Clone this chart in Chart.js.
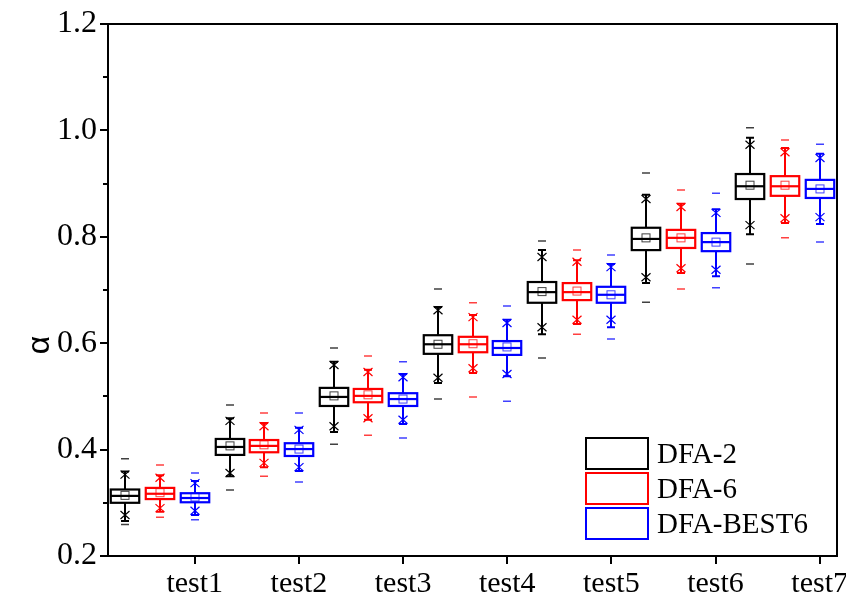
<!DOCTYPE html>
<html>
<head>
<meta charset="utf-8">
<script src="https://cdn.jsdelivr.net/npm/chart.js@4.4.1/dist/chart.umd.min.js"></script>
<style>
  html, body { margin: 0; padding: 0; background: #fff; }
  #wrap { width: 846px; height: 602px; }
</style>
</head>
<body>
<div id="wrap"><canvas id="chart" width="846" height="602"></canvas></div>
<script>
// categories and legend names
const categories = ['test1', 'test2', 'test3', 'test4', 'test5', 'test6', 'test7'];
const seriesNames = ['DFA-2', 'DFA-6', 'DFA-BEST6'];
const seriesColors = ['#000000', '#ff0000', '#0000ff'];

// each row: [min, whiskerLow, x-mark low, Q1, median, mean, Q3, x-mark high, whiskerHigh, max]
const dfa2Stats = [
  [0.259, 0.266, 0.277, 0.300, 0.313, 0.314, 0.325, 0.353, 0.359, 0.383],
  [0.324, 0.350, 0.356, 0.390, 0.405, 0.407, 0.420, 0.454, 0.459, 0.484],
  [0.410, 0.433, 0.444, 0.482, 0.499, 0.501, 0.516, 0.559, 0.565, 0.591],
  [0.495, 0.525, 0.535, 0.580, 0.598, 0.598, 0.615, 0.662, 0.668, 0.702],
  [0.572, 0.617, 0.630, 0.676, 0.696, 0.697, 0.715, 0.762, 0.775, 0.792],
  [0.677, 0.713, 0.724, 0.775, 0.796, 0.798, 0.817, 0.871, 0.879, 0.920],
  [0.749, 0.805, 0.822, 0.871, 0.895, 0.897, 0.918, 0.973, 0.986, 1.005]
];
const dfa6Stats = [
  [0.273, 0.283, 0.290, 0.307, 0.317, 0.319, 0.328, 0.347, 0.352, 0.371],
  [0.350, 0.367, 0.375, 0.395, 0.407, 0.409, 0.418, 0.444, 0.450, 0.469],
  [0.427, 0.456, 0.459, 0.489, 0.501, 0.503, 0.514, 0.546, 0.550, 0.576],
  [0.499, 0.544, 0.553, 0.583, 0.598, 0.599, 0.612, 0.649, 0.653, 0.676],
  [0.617, 0.636, 0.644, 0.681, 0.696, 0.698, 0.713, 0.753, 0.756, 0.775],
  [0.702, 0.732, 0.741, 0.779, 0.798, 0.798, 0.813, 0.856, 0.862, 0.888],
  [0.798, 0.826, 0.835, 0.877, 0.895, 0.897, 0.914, 0.959, 0.967, 0.982]
];
const best6Stats = [
  [0.268, 0.277, 0.285, 0.301, 0.309, 0.311, 0.318, 0.337, 0.341, 0.356],
  [0.339, 0.360, 0.367, 0.388, 0.401, 0.401, 0.412, 0.437, 0.441, 0.469],
  [0.422, 0.448, 0.456, 0.482, 0.495, 0.495, 0.506, 0.536, 0.542, 0.565],
  [0.491, 0.538, 0.542, 0.578, 0.591, 0.593, 0.604, 0.638, 0.644, 0.670],
  [0.608, 0.630, 0.644, 0.676, 0.691, 0.691, 0.706, 0.743, 0.749, 0.766],
  [0.704, 0.726, 0.738, 0.773, 0.790, 0.790, 0.807, 0.845, 0.852, 0.882],
  [0.790, 0.824, 0.837, 0.873, 0.890, 0.890, 0.907, 0.948, 0.956, 0.974]
];

// x positions: 21 boxes, labels sit under every third one
const groupTicks = [3, 6, 9, 12, 15, 18, 21];
const yTicks = [0.2, 0.3, 0.4, 0.5, 0.6, 0.7, 0.8, 0.9, 1.0, 1.1, 1.2];

const allStats = [dfa2Stats, dfa6Stats, best6Stats];

const datasets = allStats.map((stats, m) => ({
  label: seriesNames[m],
  data: stats.map((s, i) => ({ x: i * 3 + m + 1, y: s[5] })),
  stats: stats,
  borderColor: seriesColors[m],
  backgroundColor: seriesColors[m],
  pointRadius: 0,
  showLine: false,
}));

const serif = 'Liberation Serif';

// draws the boxes, whiskers and markers from the scales
const boxPlugin = {
  id: 'boxPlot',
  afterDatasetsDraw(chart) {
    const { ctx, scales: { x, y } } = chart;
    const halfBox = (x.getPixelForValue(0.41) - x.getPixelForValue(0));
    chart.data.datasets.forEach(ds => {
      ctx.save();
      ctx.strokeStyle = ds.borderColor;
      ds.stats.forEach((s, i) => {
        const cx = Math.round(x.getPixelForValue(ds.data[i].x));
        const [mn, wl, xl, q1, md, mean, q3, xh, wh, mx] = s.map(v => y.getPixelForValue(v));

        // whiskers
        ctx.lineWidth = 2;
        ctx.beginPath();
        ctx.moveTo(cx, wl); ctx.lineTo(cx, q1);
        ctx.moveTo(cx, q3); ctx.lineTo(cx, wh);
        ctx.moveTo(cx - 4, wl); ctx.lineTo(cx + 4, wl);
        ctx.moveTo(cx - 4, wh); ctx.lineTo(cx + 4, wh);
        ctx.stroke();

        // box and median
        ctx.lineWidth = 2.2;
        ctx.fillStyle = '#fff';
        ctx.fillRect(cx - halfBox, q3, halfBox * 2, q1 - q3);
        ctx.strokeRect(cx - halfBox, q3, halfBox * 2, q1 - q3);
        ctx.beginPath();
        ctx.moveTo(cx - halfBox, md); ctx.lineTo(cx + halfBox, md);
        ctx.stroke();

        // x marks
        ctx.lineWidth = 1.2;
        ctx.beginPath();
        [xl, xh].forEach(py => {
          ctx.moveTo(cx - 4.5, py - 4); ctx.lineTo(cx + 4.5, py + 4);
          ctx.moveTo(cx + 4.5, py - 4); ctx.lineTo(cx - 4.5, py + 4);
        });
        ctx.stroke();

        // min / max dashes
        ctx.globalAlpha = 0.75;
        ctx.lineWidth = 1.5;
        ctx.beginPath();
        ctx.moveTo(cx - 4, mn); ctx.lineTo(cx + 4, mn);
        ctx.moveTo(cx - 4, mx); ctx.lineTo(cx + 4, mx);
        ctx.stroke();

        // mean square
        ctx.lineWidth = 1;
        ctx.strokeRect(cx - 4, mean - 4, 8, 8);
        ctx.globalAlpha = 1;
      });
      ctx.restore();
    });
  },
  afterDraw(chart) {
    const { ctx, chartArea: a, scales: { y } } = chart;
    ctx.save();
    // frame top and right
    ctx.strokeStyle = '#000';
    ctx.lineWidth = 2;
    ctx.beginPath();
    ctx.moveTo(a.left - 8, a.top); ctx.lineTo(a.right, a.top); ctx.lineTo(a.right, a.bottom);
    // shorter minor ticks
    yTicks.forEach((v, i) => {
      if (i % 2 === 1) {
        const py = Math.round(y.getPixelForValue(v));
        ctx.moveTo(a.left - 5, py); ctx.lineTo(a.left, py);
      }
    });
    ctx.stroke();

    // axis title
    ctx.fillStyle = '#000';
    ctx.font = '32px "Liberation Sans"';
    ctx.translate(40, 345);
    ctx.rotate(-Math.PI / 2);
    ctx.textAlign = 'center';
    ctx.textBaseline = 'middle';
    ctx.fillText('\u03b1', 0, 0);
    ctx.setTransform(1, 0, 0, 1, 0, 0);

    // legend
    const lx = a.right - 251, ly = a.bottom - 118;
    ctx.font = '29px "' + serif + '"';
    ctx.textAlign = 'left';
    seriesNames.forEach((name, k) => {
      const top = ly + k * 35;
      ctx.strokeStyle = seriesColors[k];
      ctx.lineWidth = 2;
      ctx.strokeRect(lx, top, 62, 31);
      ctx.fillStyle = '#000';
      ctx.fillText(name, lx + 71, top + 17);
    });
    ctx.restore();
  }
};

new Chart(document.getElementById('chart').getContext('2d'), {
  type: 'scatter',
  data: { datasets: datasets },
  options: {
    responsive: false,
    animation: false,
    layout: { padding: { top: 24, right: 9, left: 0, bottom: 0 } },
    plugins: { legend: { display: false }, tooltip: { enabled: false } },
    scales: {
      x: {
        type: 'linear',
        min: 0.5,
        max: 21.5,
        afterBuildTicks: (scale) => {
          scale.ticks = groupTicks.map(v => ({ value: v }));
        },
        afterFit: (scale) => {
          scale.height = 46;
          scale.paddingLeft = 0;
          scale.paddingRight = 0;
        },
        ticks: {
          autoSkip: false,
          maxRotation: 0,
          padding: 2,
          color: '#000',
          font: { family: serif, size: 30 },
          callback: (v, i) => categories[i],
        },
        grid: { drawOnChartArea: false, tickLength: 8, color: '#000', lineWidth: 2 },
        border: { color: '#000', width: 2 },
      },
      y: {
        type: 'linear',
        min: 0.2,
        max: 1.2,
        afterBuildTicks: (scale) => {
          scale.ticks = yTicks.map(v => ({ value: v }));
        },
        afterFit: (scale) => {
          scale.width = 108;
          scale.paddingTop = 0;
          scale.paddingBottom = 0;
        },
        ticks: {
          autoSkip: false,
          padding: 3,
          color: '#000',
          font: { family: serif, size: 32 },
          callback: (v, i) => (i % 2 === 0 ? yTicks[i].toFixed(1) : ''),
        },
        grid: {
          drawOnChartArea: false,
          tickLength: 8,
          color: '#000',
          tickColor: (c) => (c.index % 2 === 0 ? '#000' : 'rgba(0,0,0,0)'),
          lineWidth: 2,
        },
        border: { color: '#000', width: 2 },
      },
    },
  },
  plugins: [boxPlugin],
});
</script>
</body>
</html>
